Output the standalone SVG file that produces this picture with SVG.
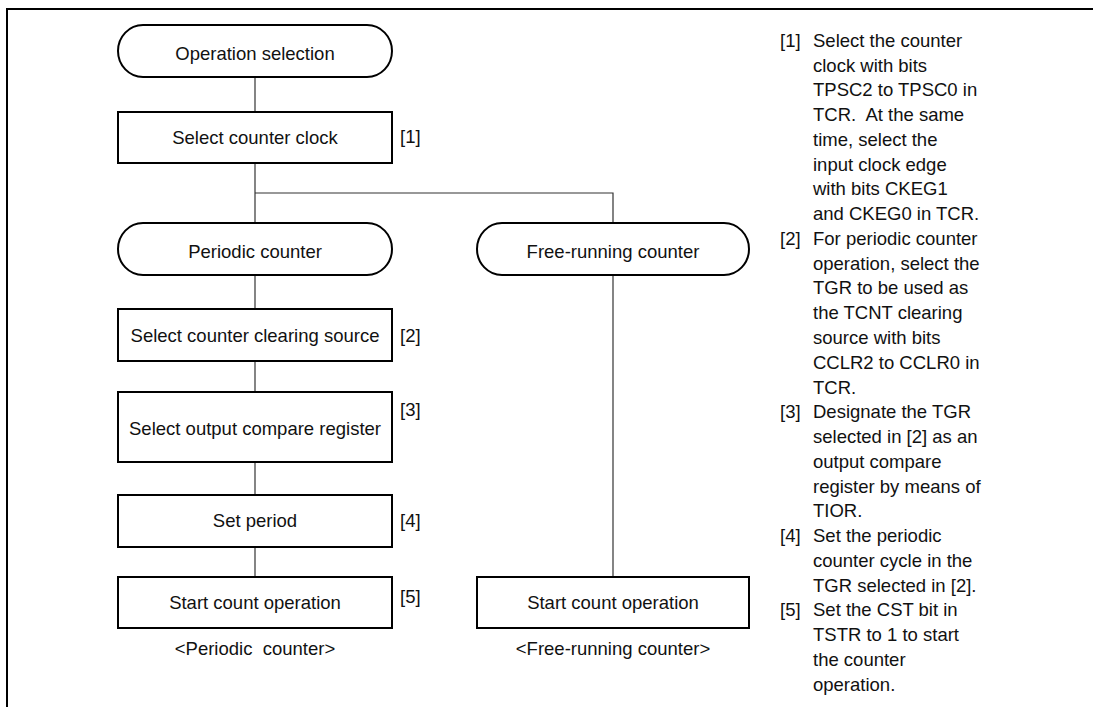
<svg xmlns="http://www.w3.org/2000/svg" width="1093" height="707" viewBox="0 0 1093 707">
<style>
text{font-family:"Liberation Sans",Arial,sans-serif;font-size:18.5px;fill:#111;white-space:pre}
.c{text-anchor:middle}
.box{fill:#fff;stroke:#000;stroke-width:2}
.conn{fill:none;stroke:#333;stroke-width:1.2}
.frame{fill:none;stroke:#000;stroke-width:2}
</style>
<rect width="1093" height="707" fill="#fff"/>
<path class="frame" d="M7 707 V9 H1093"/>
<g id="connectors">
<path class="conn" d="M255 77 V112"/>
<path class="conn" d="M255 163 V223"/>
<path class="conn" d="M255 193 H613 V223"/>
<path class="conn" d="M255 275 V309"/>
<path class="conn" d="M255 361 V392"/>
<path class="conn" d="M255 462 V495"/>
<path class="conn" d="M255 547 V577"/>
<path class="conn" d="M613 275 V577"/>
</g>
<g id="op-selection"><rect class="box" x="118" y="25" width="274" height="52" rx="25" ry="26"/><text class="c" x="255" y="60">Operation selection</text></g>
<g id="select-clock"><rect class="box" x="118" y="112" width="274" height="51"/><text class="c" x="255" y="144">Select counter clock</text><text x="400" y="143">[1]</text></g>
<g id="periodic"><rect class="box" x="118" y="223" width="274" height="52" rx="25" ry="26"/><text class="c" x="255" y="258">Periodic counter</text></g>
<g id="free-running"><rect class="box" x="477" y="223" width="272" height="52" rx="25" ry="26"/><text class="c" x="613" y="258">Free-running counter</text></g>
<g id="clearing-source"><rect class="box" x="118" y="309" width="274" height="52"/><text class="c" x="255" y="342">Select counter clearing source</text><text x="400" y="342">[2]</text></g>
<g id="output-compare"><rect class="box" x="118" y="392" width="274" height="70"/><text class="c" x="255" y="435">Select output compare register</text><text x="400" y="416">[3]</text></g>
<g id="set-period"><rect class="box" x="118" y="495" width="274" height="52"/><text class="c" x="255" y="527">Set period</text><text x="400" y="527">[4]</text></g>
<g id="start-periodic"><rect class="box" x="118" y="577" width="274" height="51"/><text class="c" x="255" y="609">Start count operation</text><text x="400" y="603">[5]</text></g>
<g id="start-free"><rect class="box" x="477" y="577" width="272" height="51"/><text class="c" x="613" y="609">Start count operation</text></g>
<text class="c" x="255" y="655">&lt;Periodic  counter&gt;</text>
<text class="c" x="613" y="655">&lt;Free-running counter&gt;</text>
<g id="notes">
<text x="780" y="46.7">[1]</text><text x="813" y="46.7">Select the counter</text>
<text x="813" y="71.5">clock with bits</text>
<text x="813" y="96.2">TPSC2 to TPSC0 in</text>
<text x="813" y="121">TCR.  At the same</text>
<text x="813" y="145.8">time, select the</text>
<text x="813" y="170.6">input clock edge</text>
<text x="813" y="195.3">with bits CKEG1</text>
<text x="813" y="220.1">and CKEG0 in TCR.</text>
<text x="780" y="244.9">[2]</text><text x="813" y="244.9">For periodic counter</text>
<text x="813" y="269.6">operation, select the</text>
<text x="813" y="294.4">TGR to be used as</text>
<text x="813" y="319.2">the TCNT clearing</text>
<text x="813" y="344">source with bits</text>
<text x="813" y="368.7">CCLR2 to CCLR0 in</text>
<text x="813" y="393.5">TCR.</text>
<text x="780" y="418.3">[3]</text><text x="813" y="418.3">Designate the TGR</text>
<text x="813" y="443">selected in [2] as an</text>
<text x="813" y="467.8">output compare</text>
<text x="813" y="492.6">register by means of</text>
<text x="813" y="517.4">TIOR.</text>
<text x="780" y="542.1">[4]</text><text x="813" y="542.1">Set the periodic</text>
<text x="813" y="566.9">counter cycle in the</text>
<text x="813" y="591.7">TGR selected in [2].</text>
<text x="780" y="616.4">[5]</text><text x="813" y="616.4">Set the CST bit in</text>
<text x="813" y="641.2">TSTR to 1 to start</text>
<text x="813" y="666">the counter</text>
<text x="813" y="690.8">operation.</text>
</g>
</svg>
